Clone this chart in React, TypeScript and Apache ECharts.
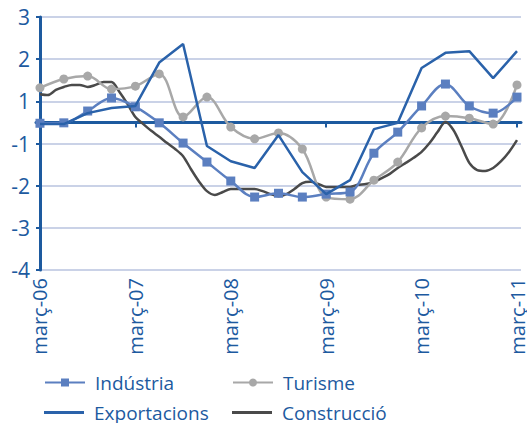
import React, { useEffect, useRef } from "react";
import * as echarts from "echarts";

// Monthly categories, març-06 .. març-11
const monthNames = ["gen", "febr", "març", "abr", "maig", "juny", "jul", "ag", "set", "oct", "nov", "des"];
const categories: string[] = [];
for (let i = 0; i <= 60; i++) {
  const m = (2 + i) % 12;
  const y = 6 + Math.floor((2 + i) / 12);
  categories.push(`${monthNames[m]}-${String(y).padStart(2, "0")}`);
}

// Quarterly observation positions (month index)
const quarterIdx = [0, 3, 6, 9, 12, 15, 18, 21, 24, 27, 30, 33, 36, 39, 42, 45, 48, 51, 54, 57, 60];

// Values on the chart's scale (0 = thick central line)
const industria = [-0.02, -0.01, 0.27, 0.58, 0.37, -0.01, -0.49, -0.94, -1.39, -1.77, -1.68, -1.77, -1.7, -1.65, -0.73, -0.23, 0.39, 0.91, 0.39, 0.22, 0.6];
const turisme = [0.82, 1.03, 1.1, 0.79, 0.86, 1.15, 0.13, 0.6, -0.11, -0.39, -0.25, -0.63, -1.77, -1.82, -1.37, -0.94, -0.13, 0.15, 0.1, -0.04, 0.89];
const exportacions = [-0.04, -0.04, 0.22, 0.34, 0.39, 1.42, 1.86, -0.56, -0.92, -1.08, -0.3, -1.18, -1.7, -1.37, -0.16, -0.01, 1.29, 1.65, 1.69, 1.05, 1.69];
const construccio = [
  0.67, 0.65, 0.77, 0.84, 0.89, 0.89, 0.84, 0.89, 0.96, 0.96, 0.72, 0.44, 0.13, -0.04, -0.2, -0.34, -0.49, -0.63, -0.8, -1.11,
  -1.4, -1.63, -1.72, -1.65, -1.58, -1.58, -1.58, -1.58, -1.63, -1.7, -1.75, -1.7, -1.58, -1.44, -1.41, -1.46, -1.53, -1.53, -1.53, -1.53,
  -1.48, -1.46, -1.41, -1.32, -1.22, -1.08, -0.96, -0.84, -0.7, -0.49, -0.23, 0.01, -0.18, -0.56, -0.96, -1.13, -1.15, -1.08, -0.92, -0.7,
  -0.42,
];

const labelIdx = [0, 12, 24, 36, 48, 60];
const tickIdx = [12, 24, 36, 48, 60];

const BLUE = "#1d5a9f";
const FONT = "Open Sans";

export default function App() {
  const ref = useRef<HTMLDivElement>(null);
  useEffect(() => {
    document.body.style.margin = "0";
    const chart = echarts.init(ref.current!, null, { renderer: "svg" });
    const q = (arr: number[]) => arr.map((v, i) => [quarterIdx[i], v]);
    const legendItem = (name: string, left: number, top: number, plain: boolean) => ({
      data: [plain ? { name, icon: "rect" } : name],
      orient: "horizontal",
      left,
      top,
      itemWidth: 40,
      itemHeight: plain ? 3 : 10,
      padding: 0,
      itemGap: 0,
      textStyle: { color: BLUE, fontFamily: FONT, fontSize: 19, padding: [0, 0, 0, 5], lineHeight: 18 },
    });
    chart.setOption({
      animation: false,
      grid: { left: 36, right: 2, top: 17, bottom: 153, containLabel: false },
      xAxis: [
        {
          type: "value",
          min: -0.5,
          max: 60.5,
          axisLine: { onZero: true, lineStyle: { color: BLUE, width: 3 } },
          axisTick: { show: true, customValues: tickIdx, length: 5, lineStyle: { color: BLUE, width: 2 } },
          axisLabel: { show: false },
          splitLine: { show: false },
        },
        {
          type: "value",
          min: -0.5,
          max: 60.5,
          position: "bottom",
          axisLine: { show: false, onZero: false },
          axisTick: { show: false },
          splitLine: { show: false },
          axisLabel: {
            customValues: labelIdx,
            rotate: 90,
            margin: 8,
            color: BLUE,
            fontFamily: FONT,
            fontSize: 20,
            formatter: (v: number) => categories[Math.round(v)],
          },
        },
      ],
      yAxis: {
        type: "value",
        min: -3.5,
        max: 2.5,
        interval: 1,
        axisLine: { show: true, lineStyle: { color: BLUE, width: 3 } },
        axisTick: { show: true, length: 4, lineStyle: { color: BLUE, width: 2 } },
        axisLabel: {
          margin: 6,
          color: BLUE,
          fontFamily: FONT,
          fontSize: 21,
          formatter: (v: number) => String(Math.round(v > 0 ? v + 0.5 : v - 0.5)),
        },
        splitLine: { show: true, lineStyle: { color: "#cad2e7", width: 2 } },
      },
      legend: [
        legendItem("Indústria", 44, 373, false),
        legendItem("Exportacions", 44, 403, true),
        legendItem("Turisme", 232, 373, false),
        legendItem("Construcció", 232, 403, true),
      ],
      series: [
        {
          name: "Construcció",
          type: "line",
          data: construccio.map((v, i) => [i, v]),
          smooth: 0.3,
          symbol: "none",
          lineStyle: { color: "#4a4a4a", width: 2.5 },
          itemStyle: { color: "#4a4a4a" },
          z: 2,
        },
        {
          name: "Turisme",
          type: "line",
          data: q(turisme),
          smooth: 0.35,
          symbol: "circle",
          symbolSize: 9,
          lineStyle: { color: "#a8a8a8", width: 2.5 },
          itemStyle: { color: "#a8a8a8" },
          z: 3,
        },
        {
          name: "Indústria",
          type: "line",
          data: q(industria),
          smooth: 0.35,
          symbol: "rect",
          symbolSize: 9,
          lineStyle: { color: "#5b7fc0", width: 2.5 },
          itemStyle: { color: "#5b7fc0" },
          z: 4,
        },
        {
          name: "Exportacions",
          type: "line",
          data: q(exportacions),
          symbol: "none",
          lineStyle: { color: "#2a62aa", width: 2.5 },
          itemStyle: { color: "#2a62aa" },
          z: 5,
        },
      ],
    });
    return () => chart.dispose();
  }, []);
  return <div ref={ref} style={{ width: 527, height: 423 }} />;
}
